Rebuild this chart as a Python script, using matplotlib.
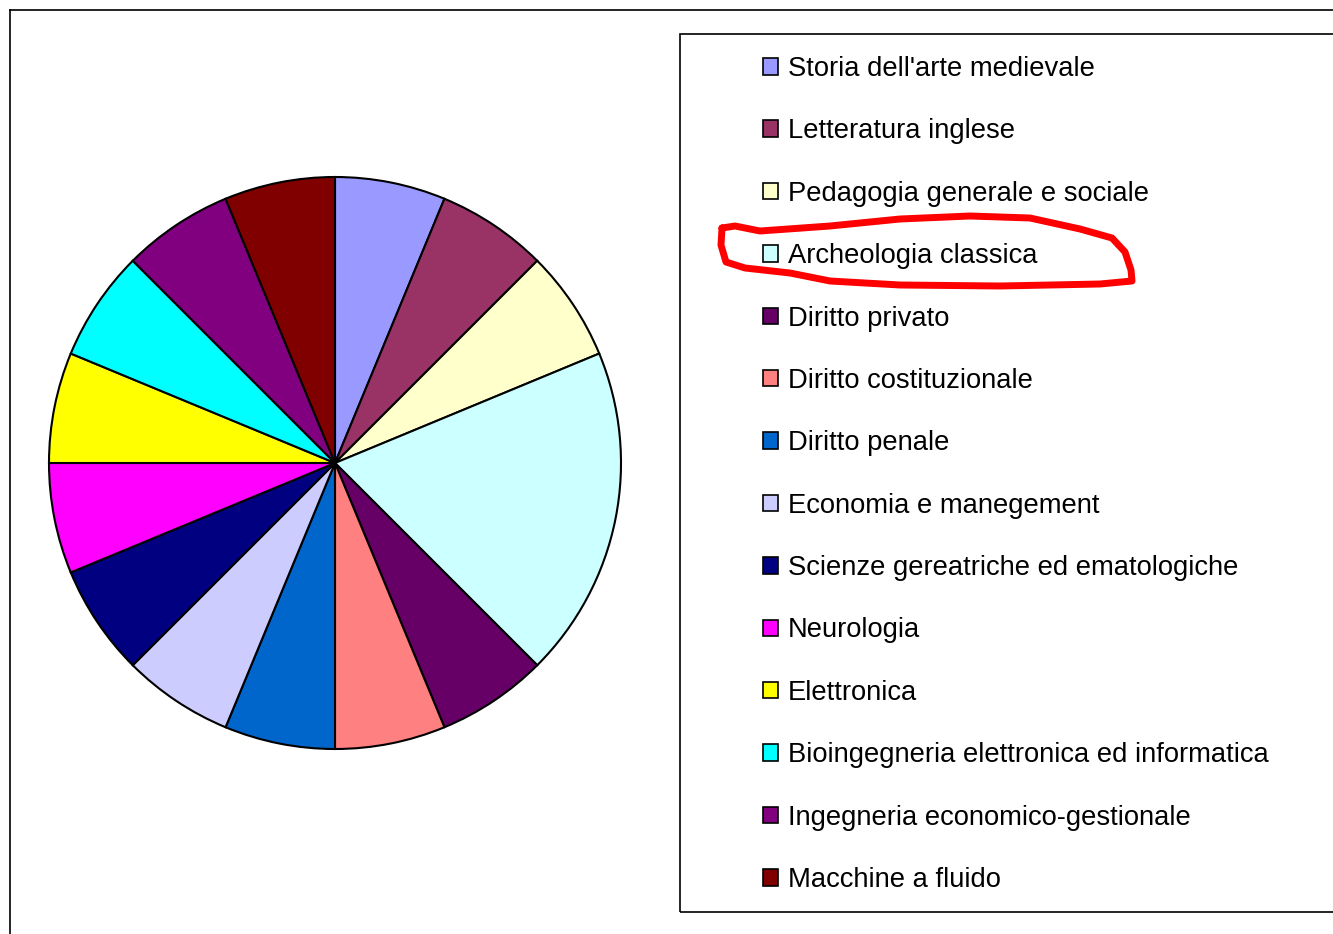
import matplotlib.pyplot as plt
from matplotlib.patches import Patch, Rectangle
from matplotlib.lines import Line2D

plt.rcParams['font.family'] = ['Liberation Sans', 'DejaVu Sans']

# dati
corsi = ["Storia dell'arte medievale", "Letteratura inglese", "Pedagogia generale e sociale",
         "Archeologia classica", "Diritto privato", "Diritto costituzionale", "Diritto penale",
         "Economia e manegement", "Scienze gereatriche ed ematologiche", "Neurologia",
         "Elettronica", "Bioingegneria elettronica ed informatica",
         "Ingegneria economico-gestionale", "Macchine a fluido"]
valori = [1, 1, 1, 3, 1, 1, 1, 1, 1, 1, 1, 1, 1, 1]
colori = ['#9999FF', '#993366', '#FFFFCC', '#CCFFFF', '#660066', '#FF8080', '#0066CC',
          '#CCCCFF', '#000080', '#FF00FF', '#FFFF00', '#00FFFF', '#800080', '#800000']

W, H = 1333, 934
fig = plt.figure(figsize=(W / 100, H / 100), dpi=100)

def px(x, y):
    # pixel (dall'alto) -> coordinate figura
    return x / W, 1 - y / H

# torta
cx, cy, r = 335, 463, 286
ax = fig.add_axes([(cx - r) / W, (H - cy - r) / H, 2 * r / W, 2 * r / H])
ax.pie(valori, colors=colori, startangle=90, counterclock=False,
       wedgeprops=dict(edgecolor='black', linewidth=1.5))
ax.set_aspect('equal')
ax.set_xlim(-1, 1)
ax.set_ylim(-1, 1)
ax.axis('off')

# cornice esterna
fig.add_artist(Line2D([10 / W, 10 / W], [-0.1, 1 - 10 / H], color='black', lw=1.2))
fig.add_artist(Line2D([10 / W, 1.1], [1 - 10 / H, 1 - 10 / H], color='black', lw=1.2))

# riquadro della legenda
x0, y0 = px(680, 912)
x1, y1 = px(1340, 34)
fig.add_artist(Rectangle((x0, y0), x1 - x0, y1 - y0, transform=fig.transFigure,
                         fill=False, edgecolor='black', lw=1.2, clip_on=False))

handles = [Patch(facecolor=c, edgecolor='black', lw=1.2) for c in colori]
fig.legend(handles, corsi, loc='upper left', bbox_to_anchor=px(752, 45),
           frameon=False, fontsize=19.7, handlelength=0.55, handleheight=0.55,
           handletextpad=0.35, labelspacing=1.33, borderaxespad=0)

# evidenziazione a mano
pts = [(722, 228), (735, 226), (760, 231), (830, 226), (900, 219), (970, 216), (1030, 218),
       (1080, 229), (1112, 238), (1125, 252), (1131, 270), (1132, 281), (1100, 284),
       (1000, 286), (900, 285), (830, 281), (790, 273), (745, 268), (726, 262),
       (721, 245), (722, 228)]
xs = [p[0] / W for p in pts]
ys = [1 - p[1] / H for p in pts]
fig.add_artist(Line2D(xs, ys, color='red', lw=5, solid_joinstyle='round',
                      solid_capstyle='round'))

fig.savefig('out.png', dpi=100, facecolor='white')
